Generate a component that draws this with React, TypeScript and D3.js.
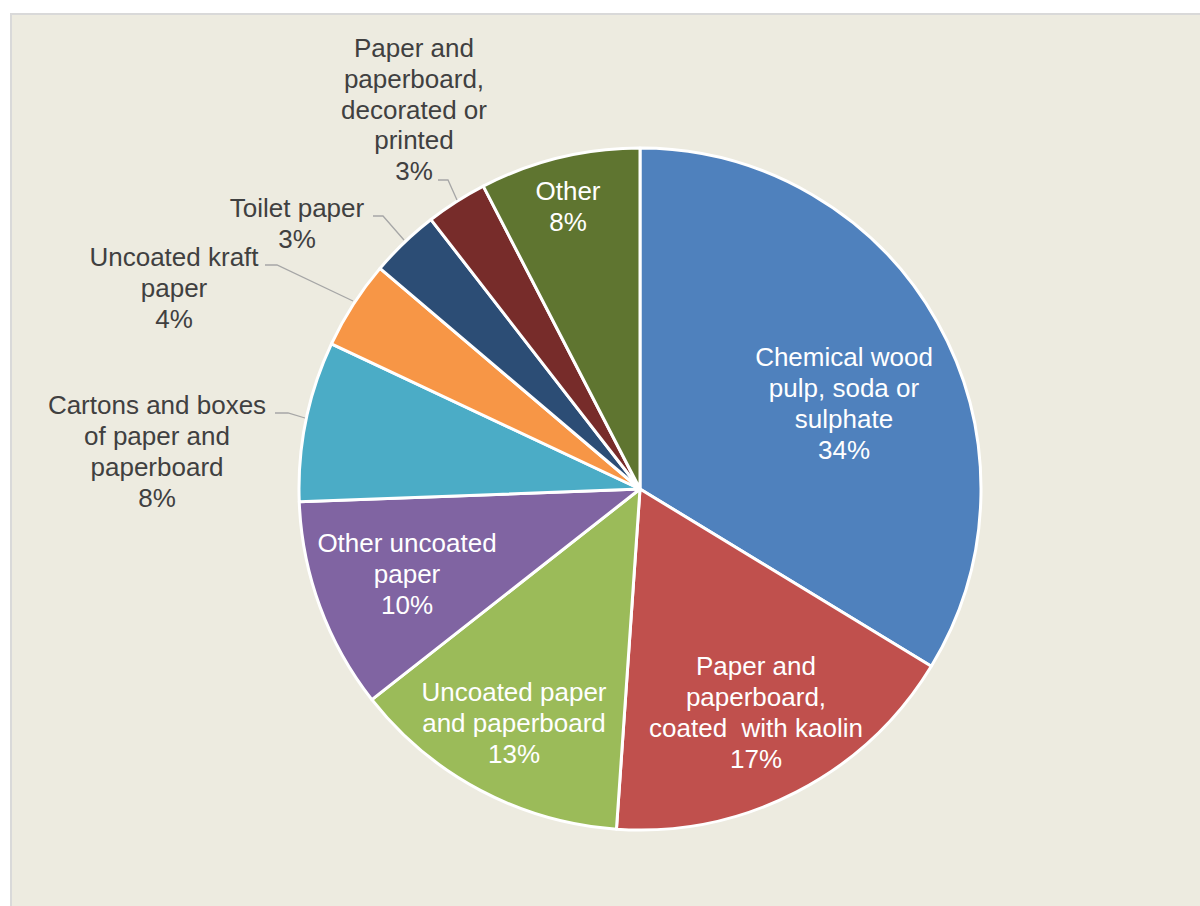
import React, { useEffect } from "react";
import * as d3 from "d3";

const categories = [
  "Chemical wood pulp, soda or sulphate",
  "Paper and paperboard, coated  with kaolin",
  "Uncoated paper and paperboard",
  "Other uncoated paper",
  "Cartons and boxes of paper and paperboard",
  "Uncoated kraft paper",
  "Toilet paper",
  "Paper and paperboard, decorated or printed",
  "Other",
];
const values = [33.7, 17.4, 13.3, 10.0, 7.6, 4.2, 3.3, 2.9, 7.6];
const colors = ["#4F81BD", "#C0504D", "#9BBB59", "#8064A2", "#4BACC6", "#F79646", "#2C4D75", "#772C2A", "#5F7530"];

// label line breaks (text only)
const labelLines = [
  ["Chemical wood", "pulp, soda or", "sulphate"],
  ["Paper and", "paperboard,", "coated  with kaolin"],
  ["Uncoated paper", "and paperboard"],
  ["Other uncoated", "paper"],
  ["Cartons and boxes", "of paper and", "paperboard"],
  ["Uncoated kraft", "paper"],
  ["Toilet paper"],
  ["Paper and", "paperboard,", "decorated or", "printed"],
  ["Other"],
];

// layout: label anchor (center x, first baseline y), inside flag, leader polyline
const labelLayout: { x: number; y: number; inside: boolean; lh: number; leader?: [number, number][] }[] = [
  { x: 844, y: 366, inside: true, lh: 31 },
  { x: 756, y: 675, inside: true, lh: 31 },
  { x: 514, y: 701, inside: true, lh: 31 },
  { x: 407, y: 552, inside: true, lh: 31 },
  { x: 157, y: 414, inside: false, lh: 31, leader: [[275, 413], [288, 413], [305, 418]] },
  { x: 174, y: 266, inside: false, lh: 31, leader: [[265, 265], [277, 265], [353, 301]] },
  { x: 297, y: 217, inside: false, lh: 31, leader: [[373, 216], [383, 216], [404, 240]] },
  { x: 414, y: 57, inside: false, lh: 30.8, leader: [[438, 180], [448, 180], [457, 200]] },
  { x: 568, y: 200, inside: true, lh: 31 },
];

const W = 1200;
const H = 906;
const cx = 640;
const cy = 489;
const R = 341;

export default function App() {
  useEffect(() => {
    document.body.style.margin = "0";
  }, []);

  const pie = d3.pie<number>().sort(null).value((d) => d)(values);
  const arc = d3.arc<d3.PieArcDatum<number>>().innerRadius(0).outerRadius(R);
  const total = d3.sum(values);
  const fmt = (v: number) => `${Math.round((v / total) * 100)}%`;

  return (
    <svg width={W} height={H} style={{ display: "block" }} fontFamily="'Liberation Sans', Arial, sans-serif">
      <rect x={0} y={0} width={W} height={H} fill="#ffffff" />
      <rect x={11} y={14} width={W} height={H} fill="#EDEBE0" stroke="#D9D9D9" strokeWidth={2} />
      <g transform={`translate(${cx},${cy})`}>
        {pie.map((p, i) => (
          <path key={i} d={arc(p) || ""} fill={colors[i]} stroke="#ffffff" strokeWidth={3} strokeLinejoin="round" />
        ))}
      </g>
      {labelLayout.map((l, i) =>
        l.leader ? (
          <polyline
            key={"ld" + i}
            points={l.leader.map((p) => p.join(",")).join(" ")}
            fill="none"
            stroke="#A6A6A6"
            strokeWidth={1.3}
          />
        ) : null
      )}
      {labelLayout.map((l, i) => {
        const lines = [...labelLines[i], fmt(values[i])];
        return (
          <text
            key={"lb" + i}
            textAnchor="middle"
            fontSize={26}
            fill={l.inside ? "#ffffff" : "#404040"}
            style={{ whiteSpace: "pre" }}
          >
            {lines.map((s, j) => (
              <tspan key={j} x={l.x} y={l.y + j * l.lh}>
                {s}
              </tspan>
            ))}
          </text>
        );
      })}
    </svg>
  );
}
